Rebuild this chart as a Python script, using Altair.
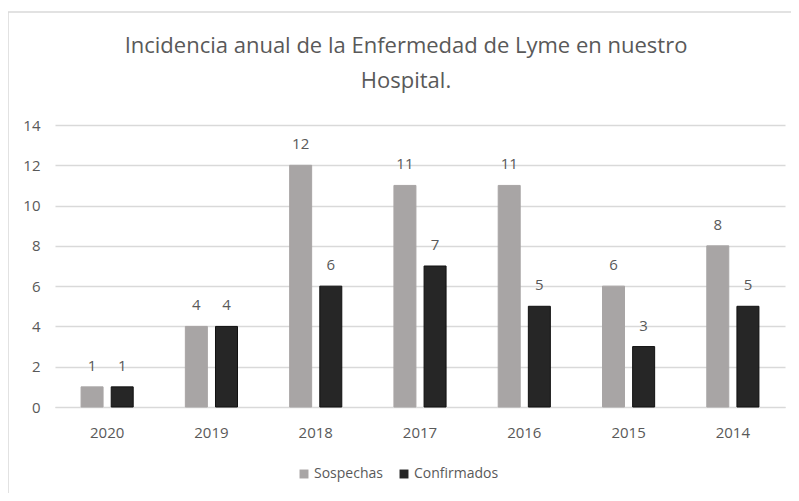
import altair as alt
import pandas as pd

years = ["2020", "2019", "2018", "2017", "2016", "2015", "2014"]
sospechas = [1, 4, 12, 11, 11, 6, 8]
confirmados = [1, 4, 6, 7, 5, 3, 5]
series = ["Sospechas", "Confirmados"]
colors = ["#a8a5a5", "#262626"]

rows = []
for i, y in enumerate(years):
    rows.append({"year": y, "serie": series[0], "value": sospechas[i]})
    rows.append({"year": y, "serie": series[1], "value": confirmados[i]})
df = pd.DataFrame(rows)

FONT = "Open Sans"
TXT = "#595959"

x = alt.X("year:N", sort=years, title=None,
          scale=alt.Scale(paddingInner=0.5, paddingOuter=0.25),
          axis=alt.Axis(labelAngle=0, ticks=False, domain=True, domainColor="#d9d9d9",
                        labelPadding=18, labelFontSize=15, labelColor=TXT, labelFont=FONT))
xoff = alt.XOffset("serie:N", sort=series, scale=alt.Scale(paddingInner=0.27, paddingOuter=0))
y = alt.Y("value:Q", title=None,
          scale=alt.Scale(domain=[0, 14]),
          axis=alt.Axis(values=list(range(0, 15, 2)), ticks=False, domain=False,
                        gridColor="#d9d9d9", gridWidth=1.3, labelPadding=15,
                        labelFontSize=15, labelColor=TXT, labelFont=FONT))

base = alt.Chart(df)

bars = base.mark_bar(strokeWidth=1).encode(
    x=x, xOffset=xoff, y=y,
    color=alt.Color("serie:N", sort=series, title=None,
                    scale=alt.Scale(domain=series, range=colors),
                    legend=alt.Legend(orient="none", direction="horizontal",
                                      legendX=242, legendY=342,
                                      symbolType="square", symbolSize=80,
                                      symbolStrokeWidth=0, columnPadding=14,
                                      labelFontSize=14, labelColor=TXT, labelFont=FONT,
                                      labelOffset=3)),
    stroke=alt.Stroke("serie:N", sort=series, legend=None,
                      scale=alt.Scale(domain=series, range=["#a8a5a5", "#111111"])),
)

labels = base.mark_text(dy=-13, fontSize=15, color=TXT, font=FONT, baseline="bottom").encode(
    x=x, xOffset=xoff, y=y, text="value:Q"
)

frame = alt.Chart(pd.DataFrame({"a": [0]})).mark_rect(
    fill=None, stroke="#d9d9d9", strokeWidth=1.5
).encode(x=alt.value(-47), x2=alt.value(800), y=alt.value(-113), y2=alt.value(420))

chart = alt.layer(frame, bars, labels).properties(
    width=730, height=282,
    autosize=alt.AutoSizeParams(type="none"),
    padding={"left": 47, "top": 117, "right": 6, "bottom": 86},
    title=alt.TitleParams(
        text=["Incidencia anual de la Enfermedad de Lyme en nuestro", "Hospital."],
        fontSize=22, font=FONT, fontWeight="normal", color=TXT,
        anchor="middle", offset=-82, lineHeight=35, dx=-14,
    ),
).configure_view(stroke=None)

chart.save("out.html", embed_options={"renderer": "svg", "actions": False})
